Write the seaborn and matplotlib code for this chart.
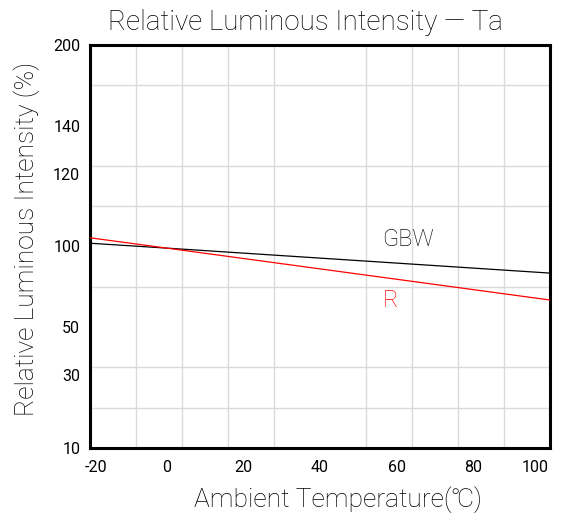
import numpy as np
import pandas as pd
import matplotlib.pyplot as plt
import matplotlib.transforms as mtransforms
import seaborn as sns

# data
temps = [-20, 0, 100]
gbw = [100.9, 99.0, 83.5]
red = [102.4, 99.0, 66.8]

x_ticks = [-20, 0, 20, 40, 60, 80, 100]
y_ticks = [10, 30, 50, 100, 120, 140, 200]
# height of each y label on the chart, in grid divisions from the bottom
y_heights = [0, 1.81, 3, 5, 6.8, 8, 10]

sns.set_style('white')
plt.rcParams['font.family'] = ['Roboto', 'DejaVu Sans']
plt.rcParams['font.weight'] = 'light'

df = pd.DataFrame({
    'Temp': temps * 2,
    'Value': gbw + red,
    'Series': ['GBW'] * 3 + ['R'] * 3,
})


def forward(v):
    return np.interp(v, y_ticks, y_heights)


def inverse(h):
    return np.interp(h, y_heights, y_ticks)


fig = plt.figure(figsize=(5.82, 5.13), dpi=100)
ax = fig.add_axes([90 / 582, 65 / 513, 460 / 582, 403 / 513])
ax.set_yscale('function', functions=(forward, inverse))

sns.lineplot(data=df, x='Temp', y='Value', hue='Series',
             palette={'GBW': 'black', 'R': '#ff0000'}, linewidth=0.9,
             legend=False, ax=ax, zorder=3)

ax.set_xlim(-20, 100)
ax.set_ylim(10, 200)

# grid: 10 equal divisions each way, independent of labels
ax.set_xticks(np.linspace(-20, 100, 11), minor=True)
ax.set_yticks(inverse(np.arange(0, 11)), minor=True)
ax.grid(True, which='minor', color='#dadada', linewidth=1.0)
ax.tick_params(which='both', length=0)

ax.set_xticks(x_ticks)
ax.set_xticklabels([str(t) for t in x_ticks])
ax.set_yticks(y_ticks)
ax.set_yticklabels([str(t) for t in y_ticks])
ax.tick_params(axis='x', labelsize=11.5, pad=9, colors='black')
ax.tick_params(axis='y', labelsize=11.5, pad=7, colors='black')
for lab in ax.get_xticklabels() + ax.get_yticklabels():
    lab.set_fontweight('normal')

labels = ax.get_xticklabels()
labels[0].set_transform(labels[0].get_transform() +
                        mtransforms.ScaledTranslation(6 / 100, 0, fig.dpi_scale_trans))
labels[-1].set_transform(labels[-1].get_transform() +
                         mtransforms.ScaledTranslation(-15 / 100, 0, fig.dpi_scale_trans))

ax.set_xlabel('')
ax.set_ylabel('')
for s in ax.spines.values():
    s.set_visible(True)
    s.set_linewidth(2.2)
    s.set_color('black')

ax.text(56.3, 101.8, 'GBW', color='#111111', fontsize=17, va='center', ha='left')
ax.text(56.3, 66.8, 'R', color='#ff0000', fontsize=17, va='center', ha='left')

fig.text(108 / 582, 1 - 23 / 513, 'Relative Luminous Intensity — Ta',
         fontsize=20, ha='left', va='center', color='black')
fig.text(338 / 582, 1 - 500 / 513, 'Ambient Temperature(℃)',
         fontsize=19, ha='center', va='center', color='black')
fig.text(27 / 582, 1 - 239 / 513, 'Relative Luminous Intensity (%)',
         fontsize=19, ha='center', va='center', rotation=90, color='black')

fig.savefig('out.png', dpi=100)
